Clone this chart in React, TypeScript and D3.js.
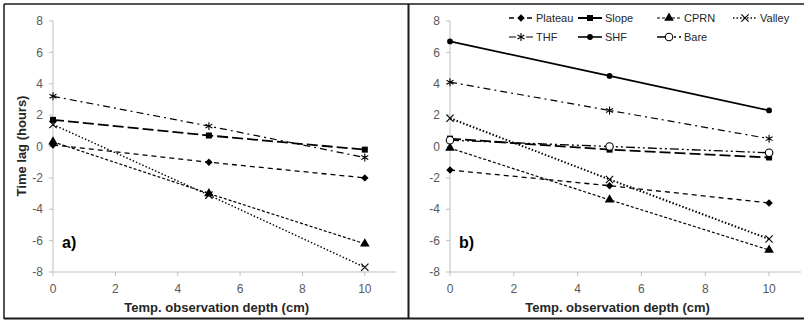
import * as d3 from "d3";
import React from "react";

// depths (cm) and time lags (hours)
const depths = [0, 5, 10];
const xTicks = [0, 2, 4, 6, 8, 10];
const yTicks = [-8, -6, -4, -2, 0, 2, 4, 6, 8];

const plateauA = [0.1, -1.0, -2.0];
const slopeA = [1.7, 0.7, -0.2];
const cprnA = [0.3, -3.0, -6.2];
const valleyA = [1.4, -3.1, -7.7];
const thfA = [3.2, 1.3, -0.7];

const plateauB = [-1.5, -2.5, -3.6];
const slopeB = [0.5, -0.2, -0.7];
const cprnB = [-0.1, -3.4, -6.6];
const valleyB = [1.8, -2.1, -5.9];
const thfB = [4.1, 2.3, 0.5];
const shfB = [6.7, 4.5, 2.3];
const bareB = [0.4, 0.0, -0.4];

const legendOrder = ["Plateau", "Slope", "CPRN", "Valley", "THF", "SHF", "Bare"];

const styles = {
  Plateau: { dash: "5,4", w: 1.3, sym: d3.symbolSquare, size: 28, fill: "#000", rot: 45 },
  Slope: { dash: "11,4", w: 1.8, sym: d3.symbolSquare, size: 36, fill: "#000" },
  CPRN: { dash: "3,2", w: 1.2, sym: d3.symbolTriangle, size: 40, fill: "#000" },
  Valley: { dash: "1.5,2", w: 1.4, sym: d3.symbolTimes, size: 36, fill: "none" },
  THF: { dash: "7,4,2,4", w: 1.2, sym: d3.symbolAsterisk, size: 44, fill: "none" },
  SHF: { dash: null, w: 1.6, sym: d3.symbolCircle, size: 26, fill: "#000" },
  Bare: { dash: "9,3,2,3,2,3", w: 1.3, sym: d3.symbolCircle, size: 44, fill: "#fff" },
};

const FONT = "'Liberation Sans', Arial, sans-serif";

const Marker = ({ name, x, y }) => {
  const s = styles[name];
  const path = d3.symbol().type(s.sym).size(s.size)();
  const stroked = s.fill !== "#000";
  return (
    <path
      d={path}
      transform={`translate(${x},${y}) rotate(${s.rot || 0})`}
      fill={s.fill}
      stroke={stroked ? "#000" : "none"}
      strokeWidth={stroked ? 1.1 : 0}
    />
  );
};

const Panel = ({ series, x0, x1, label, yTitle }) => {
  const x = d3.scaleLinear().domain([0, 11]).range([x0, x1]);
  const y = d3.scaleLinear().domain([-8, 8]).range([272, 21]);
  const line = d3
    .line()
    .x((d) => x(d[0]))
    .y((d) => y(d[1]));

  return (
    <g>
      {/* axes */}
      <line x1={x0} x2={x0} y1={y(8)} y2={y(-8)} stroke="#bfbfbf" />
      <line x1={x0} x2={x1} y1={y(-8)} y2={y(-8)} stroke="#bfbfbf" />
      {yTicks.map((t) => (
        <g key={"y" + t}>
          <line x1={x0 - 4} x2={x0} y1={y(t)} y2={y(t)} stroke="#bfbfbf" />
          <text
            x={x0 - 10}
            y={y(t)}
            dy="0.35em"
            textAnchor="end"
            fontSize={12}
            fill="#595959"
            fontFamily={FONT}
          >
            {t}
          </text>
        </g>
      ))}
      {xTicks.map((t) => (
        <g key={"x" + t}>
          <line x1={x(t)} x2={x(t)} y1={y(-8)} y2={y(-8) + 4} stroke="#bfbfbf" />
          <text
            x={x(t)}
            y={289}
            dy="0.35em"
            textAnchor="middle"
            fontSize={12}
            fill="#595959"
            fontFamily={FONT}
          >
            {t}
          </text>
        </g>
      ))}
      <text
        x={(x0 + x(10.5)) / 2}
        y={312}
        textAnchor="middle"
        fontSize={13}
        fontWeight="bold"
        fill="#262626"
        fontFamily={FONT}
      >
        Temp. observation depth (cm)
      </text>
      {yTitle && (
        <text
          transform={`translate(26,146) rotate(-90)`}
          textAnchor="middle"
          fontSize={13}
          fontWeight="bold"
          fill="#262626"
          fontFamily={FONT}
        >
          {yTitle}
        </text>
      )}
      <text x={x0 + 9} y={248} fontSize={16} fontWeight="bold" fill="#000" fontFamily={FONT}>
        {label}
      </text>

      {/* lines */}
      {series.map(([name, vals, w]) => {
        const s = styles[name];
        return (
          <path
            key={"l" + name}
            d={line(depths.map((d, i) => [d, vals[i]]))}
            fill="none"
            stroke="#000"
            strokeWidth={w || s.w}
            strokeDasharray={s.dash || undefined}
          />
        );
      })}
      {/* markers */}
      {series.map(([name, vals]) =>
        depths.map((d, i) => (
          <Marker key={"m" + name + i} name={name} x={x(d)} y={y(vals[i])} />
        ))
      )}
    </g>
  );
};

const Legend = () => {
  const cols = [509, 578, 657, 733];
  const rows = [18, 37];
  return (
    <g>
      {legendOrder.map((name, i) => {
        const cx = cols[i % 4];
        const cy = rows[Math.floor(i / 4)];
        const s = styles[name];
        return (
          <g key={name}>
            <line
              x1={cx}
              x2={cx + 24}
              y1={cy}
              y2={cy}
              stroke="#000"
              strokeWidth={s.w}
              strokeDasharray={s.dash || undefined}
            />
            <Marker name={name} x={cx + 12} y={cy} />
            <text
              x={cx + 27}
              y={cy}
              dy="0.35em"
              fontSize={11}
              fill="#262626"
              fontFamily={FONT}
            >
              {name}
            </text>
          </g>
        );
      })}
    </g>
  );
};

export default function App() {
  const seriesA = [
    ["Plateau", plateauA],
    ["Slope", slopeA],
    ["CPRN", cprnA],
    ["Valley", valleyA],
    ["THF", thfA],
  ];
  const seriesB = [
    ["Plateau", plateauB],
    ["Slope", slopeB],
    ["CPRN", cprnB],
    ["Valley", valleyB, 2],
    ["THF", thfB],
    ["SHF", shfB],
    ["Bare", bareB],
  ];
  return (
    <svg
      width={804}
      height={320}
      style={{ position: "absolute", left: 0, top: 0, background: "#fff" }}
    >
      <rect x={0} y={0} width={804} height={320} fill="#fff" />
      <line x1={4} x2={804} y1={4} y2={4} stroke="#1a1a1a" strokeWidth={1.5} />
      <line x1={4} x2={4} y1={4} y2={319} stroke="#1a1a1a" strokeWidth={1.5} />
      <line x1={4} x2={804} y1={318.5} y2={318.5} stroke="#1a1a1a" strokeWidth={2} />
      <line x1={408.5} x2={408.5} y1={4} y2={319} stroke="#1a1a1a" strokeWidth={2} />
      <Panel series={seriesA} x0={53} x1={396} label="a)" yTitle="Time lag (hours)" />
      <Panel series={seriesB} x0={450} x1={801} label="b)" />
      <Legend />
    </svg>
  );
}
